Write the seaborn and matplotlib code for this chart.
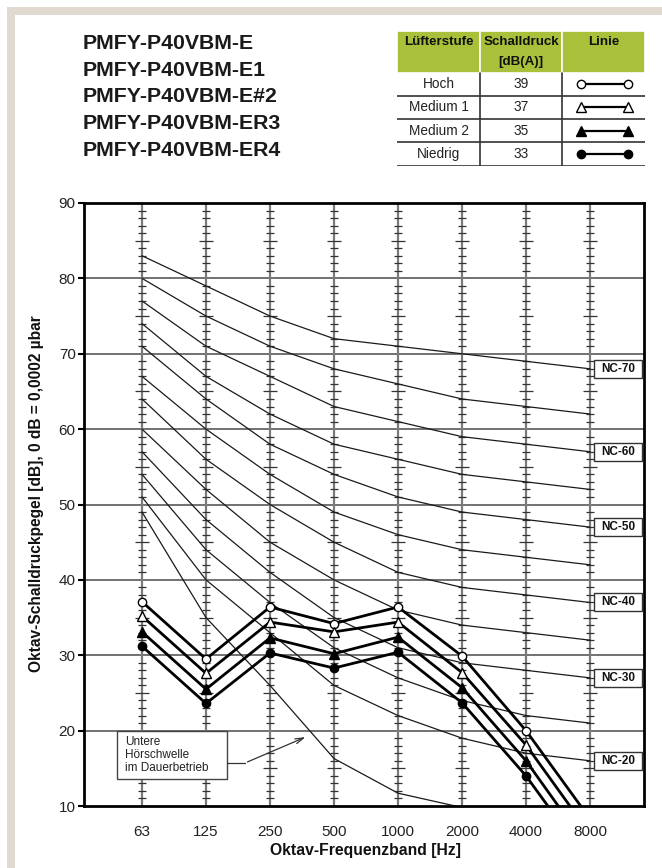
import matplotlib
matplotlib.use("Agg")
import matplotlib.pyplot as plt
import seaborn as sns
import numpy as np
import pandas as pd
from matplotlib.patches import Rectangle

# ---------------- data ----------------
bands = ["63", "125", "250", "500", "1000", "2000", "4000", "8000"]
hoch = [37.1, 29.5, 36.4, 34.2, 36.4, 29.9, 20.0, 8.3]
medium1 = [35.2, 27.6, 34.4, 33.1, 34.4, 27.7, 18.1, 6.3]
medium2 = [33.1, 25.5, 32.3, 30.2, 32.4, 25.7, 16.0, 4.1]
niedrig = [31.2, 23.6, 30.3, 28.3, 30.4, 23.7, 14.0, 2.3]

nc_names = ["NC-70", "NC-65", "NC-60", "NC-55", "NC-50", "NC-45",
            "NC-40", "NC-35", "NC-30", "NC-25", "NC-20"]
nc70 = [83, 79, 75, 72, 71, 70, 69, 68]
nc65 = [80, 75, 71, 68, 66, 64, 63, 62]
nc60 = [77, 71, 67, 63, 61, 59, 58, 57]
nc55 = [74, 67, 62, 58, 56, 54, 53, 52]
nc50 = [71, 64, 58, 54, 51, 49, 48, 47]
nc45 = [67, 60, 54, 49, 46, 44, 43, 42]
nc40 = [64, 56, 50, 45, 41, 39, 38, 37]
nc35 = [60, 52, 45, 40, 36, 34, 33, 32]
nc30 = [57, 48, 41, 35, 31, 29, 28, 27]
nc25 = [54, 44, 37, 31, 27, 24, 22, 21]
nc20 = [51, 40, 33, 26, 22, 19, 17, 16]
nc_labeled = ["NC-70", "NC-60", "NC-50", "NC-40", "NC-30", "NC-20"]

threshold_bands = ["63", "125", "250", "500", "1000", "2000"]
threshold = [49, 35, 26, 16.3, 11.7, 9.8]

title_lines = ["PMFY-P40VBM-E", "PMFY-P40VBM-E1", "PMFY-P40VBM-E#2",
               "PMFY-P40VBM-ER3", "PMFY-P40VBM-ER4"]
table_header = ["Lüfterstufe", "Schalldruck", "[dB(A)]", "Linie"]
levels = ["Hoch", "Medium 1", "Medium 2", "Niedrig"]
level_db = [39, 37, 35, 33]

y_ticks = [10, 20, 30, 40, 50, 60, 70, 80, 90]
ylabel = "Oktav-Schalldruckpegel [dB], 0 dB = 0,0002 µbar"
xlabel = "Oktav-Frequenzband [Hz]"
annot_text = "Untere\nHörschwelle\nim Dauerbetrieb"

# ---------------- style ----------------
sns.set_theme(style="white")
plt.rcParams['font.family'] = ['Liberation Sans', 'DejaVu Sans']
NARROW = ['Liberation Sans Narrow', 'Liberation Sans', 'DejaVu Sans']

W, H = 662, 868
fig = plt.figure(figsize=(W / 100, H / 100), dpi=100)
fig.patch.set_facecolor("white")

# beige frame (L-shape)
beige = "#e0d9cf"
fig.patches.append(Rectangle((7 / W, 0), 1, 1 - 7 / H, transform=fig.transFigure,
                             facecolor=beige, edgecolor="none", zorder=-10))
fig.patches.append(Rectangle((15 / W, 0), 1, 1 - 15 / H, transform=fig.transFigure,
                             facecolor="white", edgecolor="none", zorder=-9))

# ---------------- main axes ----------------
L, R, T, B = 84, 644, 203, 806
ax = fig.add_axes([L / W, 1 - B / H, (R - L) / W, (B - T) / H])
ax.set_facecolor("white")
pos = np.arange(len(bands))
px_per_unit = 64.0
px_per_db = (B - T) / 80.0
ax.set_xlim(-(142 - L) / px_per_unit, 7 + (R - 590) / px_per_unit)
ax.set_ylim(10, 90)

def px2data(px, py):
    return (px - 142) / px_per_unit, 90 - (py - T) / px_per_db

# horizontal grid lines
for g in y_ticks[1:-1]:
    ax.axhline(g, color="#4a4a4a", lw=1.1, zorder=1)

# band ruler lines
for p in pos:
    ax.axvline(p, color="#7a7a7a", lw=1.6, zorder=1)
    for v in range(11, 90):
        if v % 10 == 0:
            continue
        hw = 0.11 if v % 5 == 0 else 0.065
        ax.plot([p - hw, p + hw], [v, v], color="#333333", lw=0.9, zorder=1,
                solid_capstyle="butt")

# NC curves
nc_data = [nc70, nc65, nc60, nc55, nc50, nc45, nc40, nc35, nc30, nc25, nc20]
bw = 48 / px_per_unit
bh = 18 / px_per_db
bx0 = (594 - 142) / px_per_unit
for name, vals in zip(nc_names, nc_data):
    sns.lineplot(x=pos, y=vals, ax=ax, color="#1a1a1a", lw=0.9, zorder=2)
    if name in nc_labeled:
        ax.add_patch(Rectangle((bx0, vals[-1] - bh / 2), bw, bh, facecolor="white",
                               edgecolor="#333333", lw=1.0, zorder=5))
        ax.text(bx0 + bw / 2, vals[-1], name, ha="center", va="center", fontsize=8.5,
                fontweight="bold", color="#111111", zorder=6)

# threshold of hearing
tpos = [bands.index(b) for b in threshold_bands]
sns.lineplot(x=tpos, y=threshold, ax=ax, color="#1a1a1a", lw=0.9, zorder=2)

# measured series
series = [
    (hoch, "o", "white", 6),
    (medium1, "^", "white", 6.5),
    (medium2, "^", "black", 6.5),
    (niedrig, "o", "black", 6),
]
for vals, mk, fc, ms in series:
    sns.lineplot(x=pos, y=vals, ax=ax, color="black", lw=2.0, marker=mk,
                 markersize=ms, markerfacecolor=fc, markeredgecolor="black",
                 markeredgewidth=1.0, zorder=4)

# annotation box
x0, y0 = px2data(116.7, 779.3)
x1, y1 = px2data(227.3, 730.7)
ax.add_patch(Rectangle((x0, y0), x1 - x0, y1 - y0, facecolor="white",
                       edgecolor="#444444", lw=1.0, zorder=5))
tx, ty = px2data(125, 755)
ax.text(tx, ty, annot_text, ha="left", va="center", fontsize=8.5,
        linespacing=1.15, color="#222222", zorder=6)
ax1x, ax1y = px2data(227.3, 763)
ax2x, ax2y = px2data(245, 763)
ax3x, ax3y = px2data(308, 736)
ax.plot([ax1x, ax2x], [ax1y, ax2y], color="#333333", lw=0.9, zorder=5)
ax.annotate("", xy=(ax3x, ax3y), xytext=(ax2x, ax2y),
            arrowprops=dict(arrowstyle="->,head_length=0.5,head_width=0.15",
                            color="#333333", lw=0.9), zorder=5)

# axes styling
for s in ax.spines.values():
    s.set_color("black")
    s.set_linewidth(2.0)
ax.set_xticks(pos)
ax.set_xticklabels(bands, fontsize=11)
ax.set_yticks(y_ticks)
ax.set_yticklabels([str(v) for v in y_ticks], fontsize=11)
ax.tick_params(axis="y", which="both", left=True, length=4, width=1.5, pad=2,
               color="black", labelcolor="#222222")
ax.tick_params(axis="x", bottom=False, pad=8, labelcolor="#222222")
ax.set_xlabel("")
ax.set_ylabel("")

fig.text(36.7 / W, 1 - 494 / H, ylabel, rotation=90, ha="center", va="center",
         fontsize=11.2, fontweight="bold", color="#111111")
fig.text(365 / W, 1 - 851 / H, xlabel, ha="center", va="center",
         fontsize=11.3, fontweight="bold", color="#111111")

# ---------------- title ----------------
for i, line in enumerate(title_lines):
    fig.text(83 / W, 1 - (43.5 + i * 26.7) / H, line, ha="left", va="center",
             fontsize=15.3, fontweight="bold", family=NARROW, color="#1a1a1a")

# ---------------- table ----------------
tx0, tx1, ty0, ty1 = 397, 645, 30, 166
tab = fig.add_axes([tx0 / W, 1 - ty1 / H, (tx1 - tx0) / W, (ty1 - ty0) / H])
tab.set_xlim(tx0, tx1)
tab.set_ylim(ty1, ty0)
tab.axis("off")
green = "#a9c13a"
cols = [397, 480, 562.3, 645]
hdr_bottom = 72.5
for c0, c1 in zip(cols[:-1], cols[1:]):
    tab.add_patch(Rectangle((c0, ty0 + 1), c1 - c0, hdr_bottom - ty0 - 1,
                            facecolor=green, edgecolor="white", lw=1.2))
centers = [(c0 + c1) / 2 for c0, c1 in zip(cols[:-1], cols[1:])]
hdr_kw = dict(ha="center", va="center", fontsize=9.6, fontweight="bold",
              family=NARROW, color="#111111")
tab.text(centers[0], 42, table_header[0], **hdr_kw)
tab.text(centers[1], 42, table_header[1], **hdr_kw)
tab.text(centers[1], 62.5, table_header[2], **hdr_kw)
tab.text(centers[2], 42, table_header[3], **hdr_kw)
row_lines = [95.7, 119, 142.3, 165.5]
row_tops = [hdr_bottom] + row_lines[:-1]
for yl in row_lines:
    tab.plot([cols[0], cols[-1]], [yl, yl], color="#333333", lw=1.2)
for cx in cols[1:-1]:
    tab.plot([cx, cx], [hdr_bottom, row_lines[-1]], color="#333333", lw=1.2)
markers_tab = [("o", "white", 6), ("^", "white", 6.5), ("^", "black", 6.5), ("o", "black", 6)]
for lvl, db, top, bot, (mk, fc, ms) in zip(levels, level_db, row_tops, row_lines, markers_tab):
    yc = (top + bot) / 2
    tab.text(centers[0], yc, lvl, ha="center", va="center", fontsize=9.8,
             family=NARROW, color="#222222")
    tab.text(centers[1], yc, str(db), ha="center", va="center", fontsize=9.8,
             family=NARROW, color="#222222")
    tab.plot([581, 628], [yc, yc], color="black", lw=1.6, marker=mk, ms=ms,
             mfc=fc, mec="black", mew=1.0)

fig.savefig("out.png", dpi=100, facecolor="white")
